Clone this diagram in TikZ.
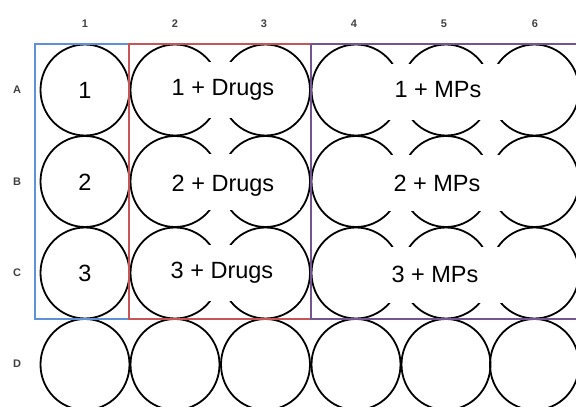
\documentclass[tikz,border=0pt]{standalone}
\usepackage{fontspec}
\setmainfont{Liberation Sans}
\usetikzlibrary{shapes.geometric}
\definecolor{grpblue}{RGB}{95,145,215}
\definecolor{grpred}{RGB}{200,85,85}
\definecolor{grppurple}{RGB}{115,85,145}
\begin{document}
\begin{tikzpicture}[x=1pt,y=-1pt,
  well/.style={ellipse,draw=black,line width=1.8pt,minimum width=89pt,minimum height=91pt,inner sep=0pt},
  hdr/.style={font=\fontsize{11}{13}\selectfont\bfseries,text=black!75,inner sep=0pt},
  lbl/.style={font=\fontsize{23.5}{28}\selectfont,inner sep=0pt,anchor=base},
  blank/.style={fill=white,draw=none,inner sep=0pt,minimum height=56pt}]
\useasboundingbox (0,0) rectangle (576,407);
% column headers
\foreach \c/\x in {1/85,2/175,3/264,4/354,5/444,6/535}
  \node[hdr] (col\c) at (\x,24) {\c};
% row headers
\foreach \r/\y in {A/90,B/182,C/273,D/364}
  \node[hdr] (row\r) at (17,\y) {\r};
% wells
\foreach \r/\y in {A/90,B/181.5,C/273,D/364.5}
  \foreach \c/\x in {1/85,2/175,3/265.5,4/356,5/446,6/534.5}
    \node[well] (w\r\c) at (\x,\y) {};
% group frames
\draw[line width=1.3pt,draw=grpblue] (35,44) rectangle (129,319);
\draw[line width=1.3pt,draw=grpred] (129,44) rectangle (311,319);
\draw[line width=1.3pt,draw=grppurple] (311,44) -- (578,44) (311,44) -- (311,319) -- (578,319);
% white label backgrounds
\node[blank,minimum width=150pt] (bd1) at (225,90) {};
\node[blank,minimum width=150pt] (bd2) at (225,182) {};
\node[blank,minimum width=150pt] (bd3) at (225,273) {};
\node[blank,minimum width=189pt] (bm1) at (427.5,92) {};
\node[blank,minimum width=225pt] (bm2) at (445.5,183) {};
\node[blank,minimum width=234pt] (bm3) at (450,275) {};
% labels
\node[lbl] (l1) at (85,98.5) {1};
\node[lbl] (l2) at (85,190.5) {2};
\node[lbl] (l3) at (85,281) {3};
\node[lbl] (d1) at (223,95.5) {1 + Drugs};
\node[lbl] (d2) at (223,191.5) {2 + Drugs};
\node[lbl] (d3) at (222,278.5) {3 + Drugs};
\node[lbl] (m1) at (438,97) {1 + MPs};
\node[lbl] (m2) at (437,191.5) {2 + MPs};
\node[lbl] (m3) at (435,282) {3 + MPs};
\end{tikzpicture}
\end{document}
